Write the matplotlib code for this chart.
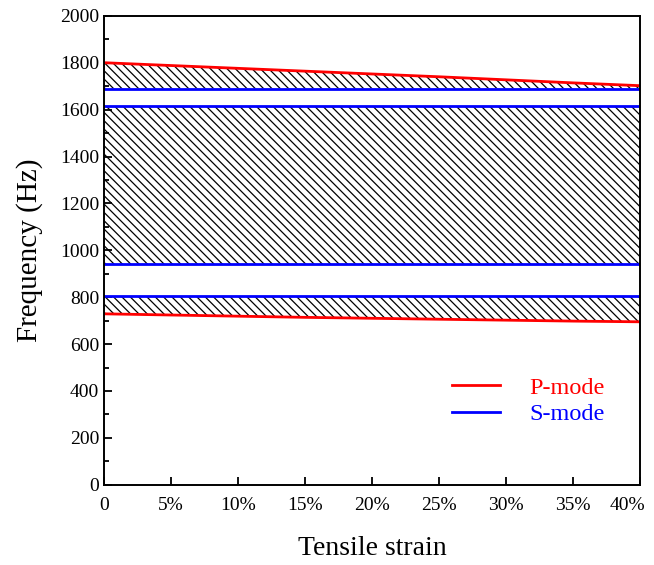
import matplotlib.pyplot as plt
import matplotlib.transforms as mtransforms
from matplotlib.ticker import MultipleLocator

plt.rcParams['font.family'] = ['Liberation Serif', 'DejaVu Serif']
plt.rcParams['hatch.linewidth'] = 0.9

# tensile strain (%) and mode frequencies (Hz)
strain = [0, 5, 10, 15, 20, 25, 30, 35, 40]
p_upper = [1800, 1788, 1776, 1764, 1752, 1740, 1727, 1714, 1702]
p_lower = [729, 724, 719, 714, 710, 706, 702, 698, 695]
s_levels = [1690, 1615, 940, 805]

x_ticks = [0, 5, 10, 15, 20, 25, 30, 35, 40]
x_ticklabels = ['0', '5%', '10%', '15%', '20%', '25%', '30%', '35%', '40%']

fig = plt.figure(figsize=(6.54, 5.65), dpi=100)
ax = fig.add_axes([0.159, 0.142, 0.820, 0.830])

# hatched band gaps
hatch = '\\' * 4
ax.fill_between(strain, p_upper, s_levels[0], facecolor='none',
                edgecolor='black', hatch=hatch, linewidth=0)
ax.fill_between(strain, s_levels[1], s_levels[2], facecolor='none',
                edgecolor='black', hatch=hatch, linewidth=0)
ax.fill_between(strain, s_levels[3], p_lower, facecolor='none',
                edgecolor='black', hatch=hatch, linewidth=0)

ax.plot(strain, p_upper, color='red', linewidth=2, label='P-mode')
ax.plot(strain, p_lower, color='red', linewidth=2)
for i, s in enumerate(s_levels):
    ax.plot([strain[0], strain[-1]], [s, s], color='blue', linewidth=2,
            label='S-mode' if i == 0 else None)

ax.set_xlim(0, 40)
ax.set_ylim(0, 2000)
ax.set_xticks(x_ticks)
ax.set_xticklabels(x_ticklabels)
ax.yaxis.set_major_locator(MultipleLocator(200))
ax.yaxis.set_minor_locator(MultipleLocator(100))
ax.tick_params(which='both', direction='in', labelsize=14, width=1.3)
ax.tick_params(which='major', length=6)
ax.tick_params(which='minor', length=3.5)
ax.tick_params(axis='x', pad=9)
for sp in ax.spines.values():
    sp.set_linewidth(1.4)

# keep the last tick label inside the figure
last = ax.get_xticklabels()[-1]
last.set_transform(last.get_transform() +
                   mtransforms.ScaledTranslation(-0.13, 0, fig.dpi_scale_trans))

ax.set_xlabel('Tensile strain', fontsize=20, labelpad=16)
ax.set_ylabel('Frequency (Hz)', fontsize=21, labelpad=12)

ax.legend(loc='lower right', bbox_to_anchor=(0.975, 0.08), frameon=False,
          fontsize=17.5, labelcolor='linecolor', handlelength=2.0,
          handletextpad=1.2, labelspacing=0.2)

fig.savefig('out.png', dpi=100)
